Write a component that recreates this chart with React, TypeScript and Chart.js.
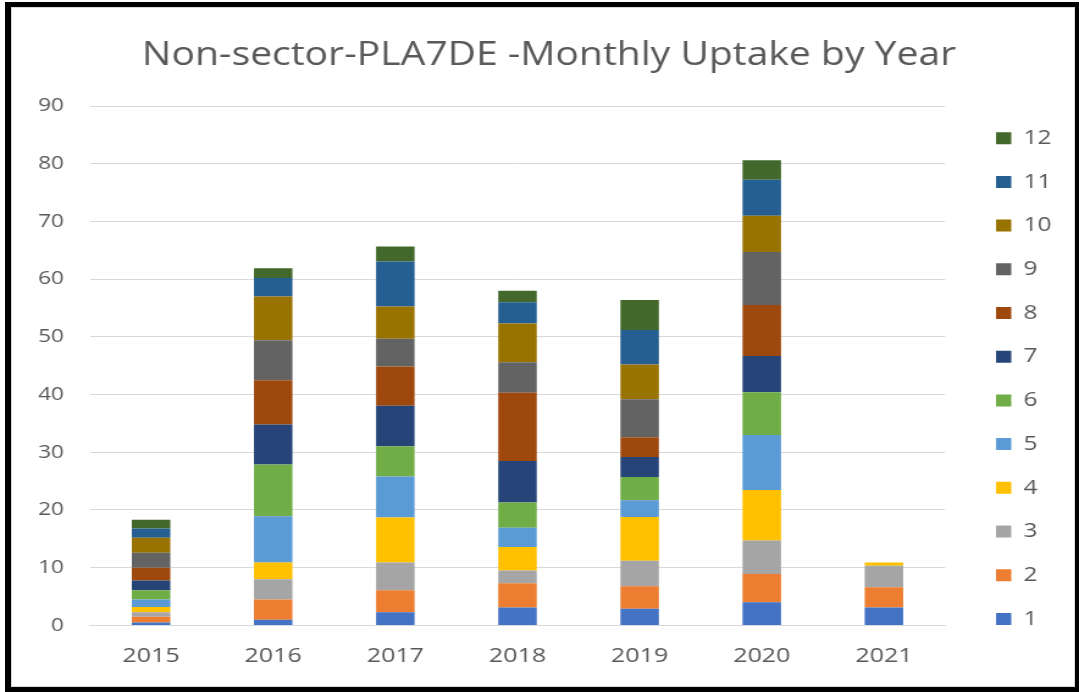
import React, { useEffect, useRef } from "react";
import { Chart, registerables } from "chart.js";

Chart.register(...registerables);

const years = ["2015", "2016", "2017", "2018", "2019", "2020", "2021"];
const monthLabels = ["1", "2", "3", "4", "5", "6", "7", "8", "9", "10", "11", "12"];
const monthColors = [
  "#4472C4", "#ED7D31", "#A5A5A5", "#FFC000", "#5B9BD5", "#70AD47",
  "#264478", "#9E480E", "#636363", "#997300", "#255E91", "#43682B",
];

// values per month for each year (2015..2021)
const m1 = [0.5, 1.0, 2.3, 3.1, 2.9, 4.0, 3.1];
const m2 = [1.0, 3.5, 3.8, 4.2, 3.9, 4.9, 3.5];
const m3 = [0.8, 3.5, 4.8, 2.2, 4.4, 5.8, 3.75];
const m4 = [0.9, 2.9, 7.8, 4.1, 7.6, 8.75, 0.55];
const m5 = [1.3, 8.0, 7.1, 3.3, 2.9, 9.55, 0];
const m6 = [1.6, 9.0, 5.25, 4.4, 4.0, 7.4, 0];
const m7 = [1.7, 6.9, 7.0, 7.2, 3.5, 6.3, 0];
const m8 = [2.2, 7.7, 6.8, 11.8, 3.4, 8.8, 0];
const m9 = [2.6, 6.9, 4.8, 5.3, 6.6, 9.2, 0];
const m10 = [2.6, 7.6, 5.6, 6.7, 6.0, 6.3, 0];
const m11 = [1.6, 3.2, 7.8, 3.7, 6.0, 6.2, 0];
const m12 = [1.5, 1.7, 2.6, 2.0, 5.2, 3.4, 0];
const monthValues = [m1, m2, m3, m4, m5, m6, m7, m8, m9, m10, m11, m12];

const yTicks = [0, 10, 20, 30, 40, 50, 60, 70, 80, 90];
const titleText = "Non-sector-PLA7DE -Monthly Uptake by Year";

const FONT = "'Open Sans', sans-serif";
const TEXT = "#595959";
const GRID = "#d9d9d9";

const PAGE_W = 1079;
const PAGE_H = 692;
const CANVAS_W = 884;

export default function App() {
  const ref = useRef<HTMLCanvasElement | null>(null);

  useEffect(() => {
    if (!ref.current) return;
    Chart.defaults.font.family = FONT;
    const chart = new Chart(ref.current, {
      type: "bar",
      data: {
        labels: years,
        datasets: monthLabels.map((lab, i) => ({
          label: lab,
          data: monthValues[i],
          backgroundColor: monthColors[i],
          borderWidth: 0,
          barPercentage: 0.315,
          categoryPercentage: 1,
        })),
      },
      options: {
        responsive: false,
        animation: false,
        layout: { padding: { left: 28.2, right: 12.6, top: 0, bottom: 14 } },
        plugins: {
          title: {
            display: true,
            text: titleText,
            color: TEXT,
            font: { family: FONT, size: 32, weight: "normal" },
            padding: { top: 36.8, bottom: 30.8 },
          },
          legend: {
            display: true,
            position: "right",
            align: "start",
            reverse: true,
            title: {
              display: true,
              text: " ",
              font: { size: 10 },
              padding: { top: 92.5, bottom: 0 },
            },
            labels: {
              color: TEXT,
              font: { family: FONT, size: 20 },
              boxWidth: 12.5,
              boxHeight: 12,
              padding: 23.7,
            },
          },
          tooltip: { enabled: false },
        },
        scales: {
          x: {
            stacked: true,
            grid: { display: false },
            border: { display: true, color: GRID, width: 1 },
            ticks: { color: TEXT, font: { family: FONT, size: 20.5 }, padding: 10 },
          },
          y: {
            stacked: true,
            min: 0,
            max: 90,
            afterBuildTicks: (scale: any) => {
              scale.ticks = yTicks.map((v) => ({ value: v }));
            },
            afterFit: (scale: any) => {
              scale.width = 45.5;
            },
            grid: { color: GRID, lineWidth: 1, drawTicks: false },
            border: { display: false },
            ticks: { color: TEXT, font: { family: FONT, size: 18.5 }, padding: 21.3 },
          },
          y2: {
            position: "right",
            display: true,
            grid: { display: false },
            border: { display: false },
            ticks: { display: false },
            afterFit: (scale: any) => {
              scale.width = 18.1;
            },
          },
        },
      },
    } as any);
    return () => chart.destroy();
  }, []);

  return (
    <div style={{ position: "fixed", left: 0, top: 0, width: PAGE_W, height: PAGE_H, background: "#fff", overflow: "hidden" }}>
      <div
        style={{
          position: "absolute",
          left: 0,
          top: 0,
          width: CANVAS_W,
          height: PAGE_H,
          transform: `scaleX(${PAGE_W / CANVAS_W})`,
          transformOrigin: "0 0",
        }}
      >
        <canvas ref={ref} width={CANVAS_W} height={PAGE_H} style={{ display: "block", width: CANVAS_W, height: PAGE_H }} />
      </div>
      <div
        style={{
          position: "absolute",
          left: 5,
          top: 2,
          width: 1074,
          height: 690,
          boxSizing: "border-box",
          borderLeft: "6px solid #000",
          borderTop: "5px solid #000",
          borderRight: "4px solid #000",
          borderBottom: "5px solid #000",
          pointerEvents: "none",
        }}
      >
        <div style={{ position: "absolute", left: 0, top: 0, right: 0, bottom: 0, border: "1px solid #d9d9d9" }} />
      </div>
    </div>
  );
}
